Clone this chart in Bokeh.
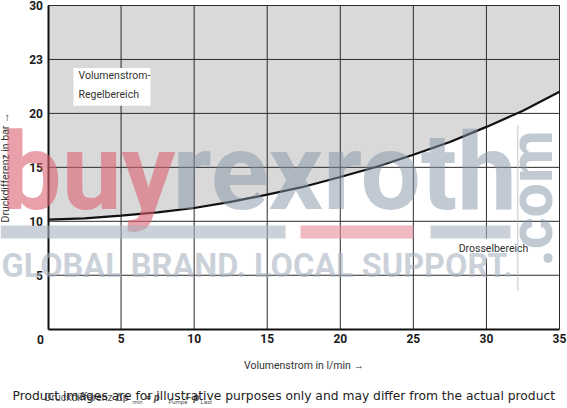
from math import pi

from bokeh.embed import file_html
from bokeh.models import BoxAnnotation, FixedTicker, Label, Range1d
from bokeh.plotting import figure
from bokeh.resources import INLINE

# Characteristic curve: minimum pressure differential vs. flow
flow = [0, 2.5, 5, 7.5, 10, 12.5, 15, 17.5, 20, 22.5, 25, 27.5, 30, 32.5, 35]
dp = [10.15, 10.28, 10.52, 10.83, 11.23, 11.8, 12.47, 13.2, 14.1, 15.06,
      16.17, 17.35, 18.75, 20.25, 22.0]

x_ticks = [5, 10, 15, 20, 25, 30, 35]
y_ticks = [5, 10, 15, 20, 25, 30]
y_tick_text = {25: "23"}
x_max, y_max = 35, 30

region_upper = ["Volumenstrom-", "Regelbereich"]
region_lower = "Drosselbereich"

COND = "Roboto"
W, H = 567, 408

# chart area inside the canvas (pixels)
FL, FR, FT, FB = 47.5, 559.0, 5.0, 328.7
XS = (FR - FL) / x_max
YS = (FB - FT) / y_max

p = figure(width=W, height=H,
           x_range=Range1d(-FL / XS, (W - FL) / XS),
           y_range=Range1d(-(H - FB) / YS, FB / YS),
           output_backend="svg", toolbar_location=None, min_border=0,
           background_fill_color="white", border_fill_color="white")
p.outline_line_color = None
p.xgrid.visible = False
p.ygrid.visible = False


def sx(cx):
    return cx


def sy(cy):
    return H - cy


# axes pinned to the origin
p.xaxis.fixed_location = 0
p.yaxis.fixed_location = 0
p.xaxis.bounds = (0, x_max)
p.yaxis.bounds = (0, y_max)
p.xaxis.ticker = FixedTicker(ticks=x_ticks)
p.yaxis.ticker = FixedTicker(ticks=y_ticks)
p.yaxis.major_label_overrides = y_tick_text

for ax in (p.xaxis[0], p.yaxis[0]):
    ax.axis_line_width = 2
    ax.axis_line_color = "#111111"
    ax.major_tick_line_color = None
    ax.minor_tick_line_color = None
    ax.major_tick_out = 0
    ax.major_tick_in = 0
    ax.major_label_text_font = COND
    ax.major_label_text_font_style = "bold"
    ax.major_label_text_font_size = "12px"
    ax.major_label_text_color = "#1a1a1a"
    ax.axis_label_text_font = COND
    ax.axis_label_text_font_style = "normal"
    ax.axis_label_text_font_size = "10.5px"
    ax.axis_label_text_color = "#333333"

p.xaxis.major_label_standoff = 5
p.yaxis.major_label_standoff = 5
p.xaxis.axis_label = "Volumenstrom in l/min \u2192"
p.yaxis.axis_label = "Druckdifferenz in bar \u2192"
p.xaxis.axis_label_standoff = 12
p.yaxis.axis_label_standoff = 15

# shaded flow-control region above the curve
p.varea(x=flow, y1=dp, y2=[y_max] * len(flow), fill_color="#d9d9d9")

# grid lines
p.segment(x0=x_ticks, y0=[0] * len(x_ticks), x1=x_ticks, y1=[y_max] * len(x_ticks),
          line_color="#2b2b2b", line_width=1)
p.segment(x0=[0] * len(y_ticks), y0=y_ticks, x1=[x_max] * len(y_ticks), y1=y_ticks,
          line_color="#2b2b2b", line_width=1)

p.line(flow, dp, line_color="#111111", line_width=2.2)

# origin label shared by both axes
p.add_layout(Label(x=sx(40), y=sy(339), x_units="screen", y_units="screen", text="0",
                   text_font=COND, text_font_style="bold", text_font_size="12px",
                   text_color="#1a1a1a", text_align="center", text_baseline="middle"))

# region captions on white boxes
p.add_layout(BoxAnnotation(left=1.74, right=7.01, bottom=20.7, top=24.2,
                           fill_color="white", fill_alpha=1, line_color=None))
p.add_layout(Label(x=2.09, y=23.5, text=region_upper[0], text_font=COND,
                   text_font_size="10.5px", text_color="#333333", text_baseline="middle"))
p.add_layout(Label(x=2.09, y=21.75, text=region_upper[1], text_font=COND,
                   text_font_size="10.5px", text_color="#333333", text_baseline="middle"))

p.add_layout(BoxAnnotation(left=27.9, right=33.1, bottom=6.55, top=8.4,
                           fill_color="white", fill_alpha=1, line_color=None))
p.add_layout(Label(x=28.1, y=7.5, text=region_lower, text_font=COND,
                   text_font_size="10.5px", text_color="#333333", text_baseline="middle"))

# formula caption under the chart
cap = dict(x_units="screen", y_units="screen", text_font=COND, text_color="#555555",
           text_baseline="middle")
p.add_layout(Label(x=sx(44), y=sy(397), text="Druckdifferenz \u0394p", text_font_size="10.5px", **cap))
p.add_layout(Label(x=sx(132), y=sy(401), text="min", text_font_size="6px", **cap))
p.add_layout(Label(x=sx(145), y=sy(397), text="= p", text_font_size="10.5px", text_font_style="bold italic", **cap))
p.add_layout(Label(x=sx(168), y=sy(401), text="Pumpe", text_font_size="6px", **cap))
p.add_layout(Label(x=sx(184), y=sy(397), text="\u2013 p", text_font_size="10.5px", text_font_style="bold italic", **cap))
p.add_layout(Label(x=sx(200), y=sy(401), text="Last", text_font_size="6px", **cap))

# store watermark
wm = dict(x_units="screen", y_units="screen", text_font=COND, text_font_style="bold",
          text_baseline="middle")
p.add_layout(Label(x=sx(1), y=sy(172), text="buy", text_font_size="107px",
                   text_color="#dc6070", text_alpha=0.6, **wm))
p.add_layout(Label(x=sx(172), y=sy(172), text="rexroth", text_font_size="107px",
                   text_color="#8393a8", text_alpha=0.5, **wm))
p.add_layout(Label(x=sx(530), y=sy(198), text=".com", text_font_size="61px", angle=pi / 2,
                   text_align="center", text_color="#8393a8", text_alpha=0.5, **wm))
p.add_layout(Label(x=sx(1), y=sy(265), text="GLOBAL BRAND. LOCAL SUPPORT.", text_font_size="32.5px",
                   text_color="#a9b3c0", text_alpha=0.6, **wm))

bar = dict(left_units="screen", right_units="screen", top_units="screen", bottom_units="screen",
           line_color=None)
p.add_layout(BoxAnnotation(left=sx(0), right=sx(285), top=sy(225), bottom=sy(238),
                           fill_color="#a9b3c0", fill_alpha=0.6, **bar))
p.add_layout(BoxAnnotation(left=sx(300), right=sx(413), top=sy(225), bottom=sy(238),
                           fill_color="#e88a98", fill_alpha=0.6, **bar))
p.add_layout(BoxAnnotation(left=sx(430), right=sx(510), top=sy(225), bottom=sy(238),
                           fill_color="#a9b3c0", fill_alpha=0.6, **bar))
p.add_layout(BoxAnnotation(left=sx(516.5), right=sx(518), top=sy(125), bottom=sy(290),
                           fill_color="#a9b3c0", fill_alpha=0.5, **bar))

# disclaimer line
p.add_layout(Label(x=sx(12), y=sy(395), x_units="screen", y_units="screen",
                   text="Product images are for illustrative purposes only and may differ from the actual product",
                   text_font="DejaVu Sans", text_font_size="12.3px", text_color="#222222",
                   text_baseline="middle"))

open("out.html", "w").write(file_html(p, INLINE))
